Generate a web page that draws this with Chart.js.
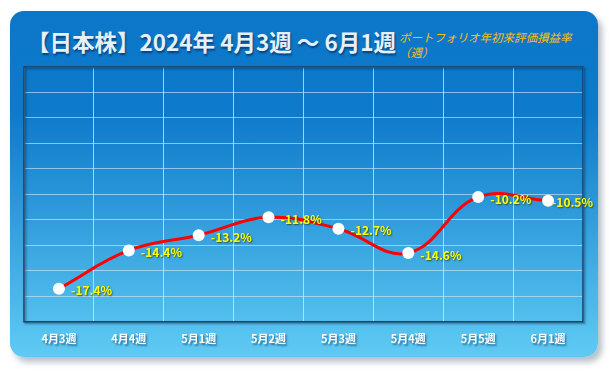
<!DOCTYPE html>
<html>
<head>
<meta charset="utf-8">
<script src="https://cdn.jsdelivr.net/npm/chart.js@4"></script>
<style>
  html, body { margin: 0; padding: 0; background: #fff; }
  body { width: 612px; height: 371px; position: relative; overflow: hidden; font-family: "Noto Sans CJK JP", sans-serif; }
  #card {
    position: absolute; left: 10px; top: 11px; width: 588px; height: 346px;
    border-radius: 14px;
    background: linear-gradient(to bottom, #0c77c9 0%, #0e7acb 30%, #5fcbf3 100%);
    box-shadow: 4px 5px 6px rgba(90, 110, 130, 0.45);
  }
  #title {
    position: absolute; left: 27px; top: 25px; margin: 0;
    font-size: 22.5px; font-weight: bold; color: #e4f0fa; white-space: nowrap;
    text-shadow: 1px 2px 2px rgba(0, 20, 60, 0.55);
  }
  #sub {
    position: absolute; left: 399px; top: 30px; margin: 0;
    font-size: 11.5px; font-style: italic; color: #ffc000; line-height: 15px; white-space: nowrap;
  }
  canvas { position: absolute; left: 0; top: 0; }
</style>
</head>
<body>
<div id="card"></div>
<div id="title">【日本株】2024年 4月3週 ～ 6月1週</div>
<div id="sub">ポートフォリオ年初来評価損益率<br>（週）</div>
<canvas id="myChart" width="612" height="371"></canvas>
<script>
const weeks = ["4月3週", "4月4週", "5月1週", "5月2週", "5月3週", "5月4週", "5月5週", "6月1週"];
const returns = [-17.4, -14.4, -13.2, -11.8, -12.7, -14.6, -10.2, -10.5];
const yMin = -20;
const yMax = 0;
const yStep = 2;

const ctx = document.getElementById('myChart');
const fontFamily = '"Noto Sans CJK JP", sans-serif';

const plotFrame = {
    id: 'plotFrame',
    afterDatasetsDraw(chart) {
        const c = chart.ctx;
        const a = chart.chartArea;
        c.save();
        c.shadowColor = 'rgba(0,30,60,0.5)';
        c.shadowOffsetX = 1.5;
        c.shadowOffsetY = 1.5;
        c.shadowBlur = 2;
        c.strokeStyle = '#153f66';
        c.lineWidth = 1.5;
        c.strokeRect(a.left, a.top, a.right - a.left, a.bottom - a.top);
        c.restore();

        // value labels (kept inside the card on the right)
        const meta = chart.getDatasetMeta(0);
        c.save();
        c.font = 'bold 12px ' + fontFamily;
        c.textAlign = 'left';
        c.textBaseline = 'middle';
        c.shadowColor = 'rgba(60,60,0,0.8)';
        c.shadowOffsetX = 1;
        c.shadowOffsetY = 1;
        c.shadowBlur = 1.5;
        c.fillStyle = '#ffff00';
        meta.data.forEach((pt, i) => {
            const txt = returns[i].toFixed(1) + '%';
            const w = c.measureText(txt).width;
            const tx = Math.min(pt.x + 12, 593 - w);
            c.fillText(txt, tx, pt.y + 2);
        });
        c.restore();

        // x labels with shadow
        const x = chart.scales.x;
        c.save();
        c.font = 'bold 11px ' + fontFamily;
        c.textAlign = 'center';
        c.textBaseline = 'middle';
        c.shadowColor = 'rgba(10,50,90,0.6)';
        c.shadowOffsetX = 1.5;
        c.shadowOffsetY = 2;
        c.shadowBlur = 2;
        c.fillStyle = '#ffffff';
        weeks.forEach((w, i) => {
            c.fillText(w, x.getPixelForTick(i), a.bottom + 17);
        });
        c.restore();
    }
};

new Chart(ctx, {
    type: 'line',
    data: {
        labels: weeks,
        datasets: [{
            data: returns,
            borderColor: '#ff0000',
            borderWidth: 3,
            tension: 0.4,
            pointRadius: 6,
            pointBackgroundColor: '#ffffff',
            pointBorderColor: '#ffffff',
            pointBorderWidth: 0
        }]
    },
    options: {
        responsive: false,
        animation: false,
        layout: { padding: { left: 24, top: 67, right: 29, bottom: 16 } },
        plugins: { legend: { display: false }, tooltip: { enabled: false } },
        scales: {
            x: {
                offset: true,
                grid: { offset: true, color: 'rgba(230,230,235,0.75)', drawTicks: false },
                border: { display: false },
                ticks: { color: 'rgba(0,0,0,0)', padding: 10, font: { family: fontFamily, size: 11, weight: 'bold' } }
            },
            y: {
                min: yMin,
                max: yMax,
                ticks: { display: false, stepSize: yStep },
                grid: { color: 'rgba(220,235,250,0.6)', drawTicks: false },
                border: { display: false }
            }
        }
    },
    plugins: [plotFrame]
});
</script>
</body>
</html>
